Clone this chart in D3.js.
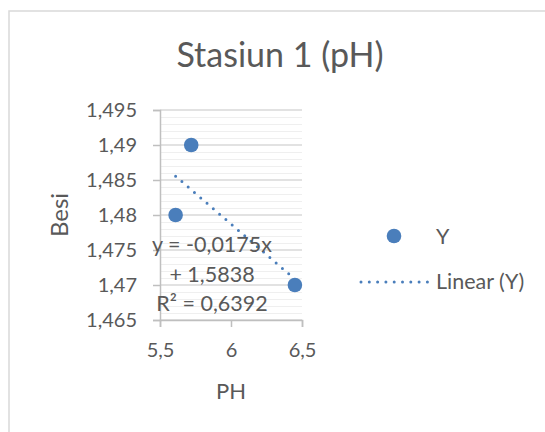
<!DOCTYPE html>
<html>
<head>
<meta charset="utf-8">
<script src="https://cdn.jsdelivr.net/npm/d3@7"></script>
<style>
  html, body { margin: 0; padding: 0; background: #fff; }
  svg { display: block; font-family: Lato, sans-serif; }
  svg text { font-family: Lato, sans-serif; }
</style>
</head>
<body>
<svg id="chart" width="545" height="432"></svg>
<script>
// Observations: pH against iron (Besi) concentration
const phValues = [5.72, 5.61, 6.45];
const besiValues = [1.49, 1.48, 1.47];

const xTicks = [5.5, 6, 6.5];
const yTicks = [1.465, 1.47, 1.475, 1.48, 1.485, 1.49, 1.495];

const chartTitle = "Stasiun 1 (pH)";
const xTitle = "PH";
const yTitle = "Besi";
const legendLabels = ["Y", "Linear (Y)"];

const textColor = "#595959";
const markColor = "#4a7ebb";
const fmtComma = d => String(d).replace(".", ",");

const svg = d3.select("#chart");

// outer chart frame
svg.append("rect")
  .attr("x", 9).attr("y", 11)
  .attr("width", 560).attr("height", 440)
  .attr("fill", "#fff")
  .attr("stroke", "#d9d9d9").attr("stroke-width", 1.5);

const plot = { left: 160, right: 302, top: 110, bottom: 320 };

const x = d3.scaleLinear().domain([5.5, 6.5]).range([plot.left, plot.right]);
const y = d3.scaleLinear().domain([1.465, 1.495]).range([plot.bottom, plot.top]);

// minor gridlines every 0.001
const minor = d3.range(0, 31).map(i => 1.465 + i * 0.001).filter((d, i) => i % 5 !== 0);
svg.append("g").selectAll("line").data(minor).join("line")
  .attr("x1", plot.left).attr("x2", plot.right)
  .attr("y1", d => Math.round(y(d)) + 0.5).attr("y2", d => Math.round(y(d)) + 0.5)
  .attr("stroke", "#efefef").attr("stroke-width", 1.2);

// major gridlines
svg.append("g").selectAll("line").data(yTicks).join("line")
  .attr("x1", plot.left).attr("x2", plot.right)
  .attr("y1", d => y(d)).attr("y2", d => y(d))
  .attr("stroke", "#d9d9d9").attr("stroke-width", 1.5);

// y axis
const yAxis = svg.append("g")
  .attr("transform", `translate(${plot.left},0)`)
  .call(d3.axisLeft(y).tickValues(yTicks).tickSize(7).tickPadding(16).tickFormat(fmtComma));
// x axis
const xAxis = svg.append("g")
  .attr("transform", `translate(0,${plot.bottom})`)
  .call(d3.axisBottom(x).tickValues(xTicks).tickSize(7).tickPadding(16).tickFormat(fmtComma));

[yAxis, xAxis].forEach(g => {
  g.attr("font-family", null).attr("font-size", null);
  g.select(".domain").attr("stroke", "#bfbfbf").attr("stroke-width", 1.5);
  g.selectAll(".tick line").attr("stroke", "#bfbfbf").attr("stroke-width", 1.5);
  g.selectAll(".tick text").attr("fill", textColor).style("font-size", "20px");
});

// linear trendline (least squares)
const n = phValues.length;
const mx = d3.mean(phValues), my = d3.mean(besiValues);
let sxy = 0, sxx = 0, syy = 0;
for (let i = 0; i < n; i++) {
  sxy += (phValues[i] - mx) * (besiValues[i] - my);
  sxx += (phValues[i] - mx) ** 2;
  syy += (besiValues[i] - my) ** 2;
}
const slope = sxy / sxx;
const intercept = my - slope * mx;
const r2 = (sxy * sxy) / (sxx * syy);
const [xmin, xmax] = d3.extent(phValues);

svg.append("line")
  .attr("x1", x(xmin)).attr("y1", y(slope * xmin + intercept))
  .attr("x2", x(xmax)).attr("y2", y(slope * xmax + intercept))
  .attr("stroke", markColor).attr("stroke-width", 3)
  .attr("stroke-linecap", "round").attr("stroke-dasharray", "0 8.3");

// points
svg.append("g").selectAll("circle").data(phValues).join("circle")
  .attr("cx", d => x(d)).attr("cy", (d, i) => y(besiValues[i]))
  .attr("r", 7.3).attr("fill", markColor);

// equation label
const fmt4 = v => v.toFixed(4).replace(".", ",");
const eqLines = [
  `y = ${fmt4(slope)}x`,
  `+ ${fmt4(intercept)}`,
  `R² = ${fmt4(r2)}`
];
svg.append("g").selectAll("text").data(eqLines).join("text")
  .attr("x", 212).attr("y", (d, i) => 252 + i * 29.5)
  .attr("text-anchor", "middle")
  .attr("fill", textColor).style("font-size", "21.5px")
  .text(d => d);

// titles
svg.append("text").attr("x", 280).attr("y", 67).attr("text-anchor", "middle")
  .attr("fill", textColor).style("font-size", "34px").text(chartTitle);
svg.append("text").attr("x", 231).attr("y", 398.5).attr("text-anchor", "middle")
  .attr("fill", textColor).style("font-size", "22px").text(xTitle);
svg.append("text").attr("transform", "translate(68,215) rotate(-90)").attr("text-anchor", "middle")
  .attr("fill", textColor).style("font-size", "24px").text(yTitle);

// legend
const lg = svg.append("g");
lg.append("circle").attr("cx", 394).attr("cy", 236).attr("r", 7.3).attr("fill", markColor);
lg.append("line").attr("x1", 361).attr("x2", 428).attr("y1", 282).attr("y2", 282)
  .attr("stroke", markColor).attr("stroke-width", 3)
  .attr("stroke-linecap", "round").attr("stroke-dasharray", "0 8.3");
lg.selectAll("text").data(legendLabels).join("text")
  .attr("x", 436).attr("y", (d, i) => 244 + i * 45)
  .attr("fill", textColor).style("font-size", "21.5px")
  .text(d => d);
</script>
</body>
</html>
